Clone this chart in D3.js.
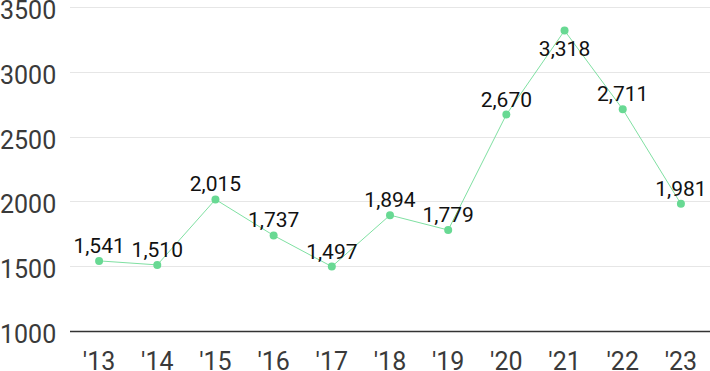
<!DOCTYPE html>
<html>
<head>
<meta charset="utf-8">
<script src="https://cdn.jsdelivr.net/npm/d3@7"></script>
<style>
  html, body { margin: 0; padding: 0; background: #fff; }
  svg { display: block; }
</style>
</head>
<body>
<svg id="chart"></svg>
<script>
// chart data
var years = ["'13", "'14", "'15", "'16", "'17", "'18", "'19", "'20", "'21", "'22", "'23"];
var values = [1541, 1510, 2015, 1737, 1497, 1894, 1779, 2670, 3318, 2711, 1981];
var yTicks = [1000, 1500, 2000, 2500, 3000, 3500];

var width = 710, height = 371;

var svg = d3.select("#chart")
    .attr("width", width)
    .attr("height", height);

var x = d3.scalePoint()
    .domain(years)
    .range([70, 710])
    .padding(0.5);

var y = d3.scaleLinear()
    .domain([1000, 3500])
    .range([331, 7]);

// grid lines
svg.append("g")
    .selectAll("line")
    .data(yTicks)
    .enter()
        .append("line")
        .attr("x1", 70)
        .attr("x2", width)
        .attr("y1", function(d) { return Math.round(y(d)) + 0.5; })
        .attr("y2", function(d) { return Math.round(y(d)) + 0.5; })
        .attr("stroke", function(d) { return d === 1000 ? "#333" : "#e6e6e6"; })
        .attr("stroke-width", function(d) { return d === 1000 ? 1.5 : 1; });

// y labels
svg.append("g")
    .selectAll("text")
    .data(yTicks)
    .enter()
        .append("text")
        .attr("x", 0)
        .attr("y", function(d) { return y(d) + 12; })
        .attr("font-family", "Roboto, sans-serif")
        .attr("font-size", 25)
        .attr("fill", "#3a3a3a")
        .text(function(d) { return d; });

// x labels
svg.append("g")
    .selectAll("text")
    .data(years)
    .enter()
        .append("text")
        .attr("x", function(d) { return x(d); })
        .attr("y", 370)
        .attr("text-anchor", "middle")
        .attr("font-family", "Roboto, sans-serif")
        .attr("font-size", 25)
        .attr("fill", "#3a3a3a")
        .text(function(d) { return d; });

var line = d3.line()
    .x(function(d, i) { return x(years[i]); })
    .y(function(d) { return y(d); });

svg.append("path")
    .datum(values)
    .attr("d", line)
    .attr("fill", "none")
    .attr("stroke", "#7fe0a2")
    .attr("stroke-width", 1);

svg.append("g")
    .selectAll("circle")
    .data(values)
    .enter()
        .append("circle")
        .attr("cx", function(d, i) { return x(years[i]); })
        .attr("cy", function(d) { return y(d); })
        .attr("r", 4)
        .attr("fill", "#68d993");

var fmt = d3.format(",");
var maxVal = d3.max(values);

svg.append("g")
    .selectAll("text")
    .data(values)
    .enter()
        .append("text")
        .attr("x", function(d, i) { return x(years[i]); })
        .attr("y", function(d) { return d === maxVal ? y(d) + 25 : y(d) - 8; })
        .attr("text-anchor", "middle")
        .attr("font-family", "Roboto, sans-serif")
        .attr("font-size", 21)
        .attr("fill", "#111")
        .text(function(d) { return fmt(d); });
</script>
</body>
</html>
